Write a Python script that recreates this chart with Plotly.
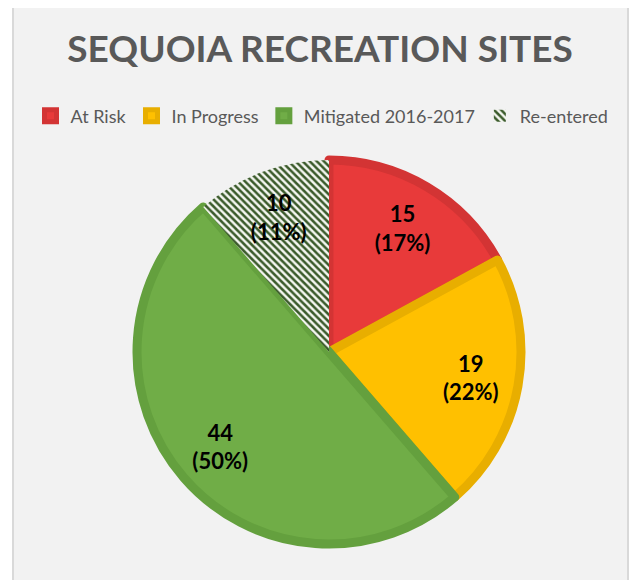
import plotly.graph_objects as go

categories = ["At Risk", "In Progress", "Mitigated 2016-2017", "Re-entered"]
values = [15, 19, 44, 10]
fill_colors = ["#E83A3A", "#FFC000", "#70AD47", "#FFFFFF"]
edge_colors = ["#D33434", "#E8AE00", "#64A03E", "rgba(0,0,0,0)"]

# page body has an 8px margin; figure is drawn in the area below/right of it
OFF = 8
W, H = 637 - OFF, 580 - OFF
cx, cy, r = 329 - OFF, 352 - OFF, 192

dom = dict(x=[(cx - r) / W, (cx + r) / W], y=[(H - cy - r) / H, (H - cy + r) / H])

fig = go.Figure()
fig.add_trace(go.Pie(
    labels=categories,
    values=values,
    sort=False,
    direction="clockwise",
    rotation=0,
    marker=dict(
        colors=fill_colors,
        line=dict(color=edge_colors, width=9),
        pattern=dict(
            shape=["", "", "", "\\"],
            fgcolor=["#000000", "#000000", "#000000", "#3A5A2A"],
            bgcolor=["#E83A3A", "#FFC000", "#70AD47", "#F4F6F0"],
            size=5,
            solidity=0.5,
        ),
    ),
    textinfo="none",
    hoverinfo="label+value+percent",
    domain=dom,
))
# transparent ring overlay used only to place the data labels further out
fig.add_trace(go.Pie(
    labels=categories,
    values=values,
    sort=False,
    direction="clockwise",
    rotation=0,
    hole=0.5,
    showlegend=False,
    marker=dict(colors=["rgba(0,0,0,0)"] * 4, line=dict(width=0)),
    texttemplate="<b>%{value}<br>(%{percent:.0%})</b>",
    textposition="inside",
    insidetextorientation="horizontal",
    textfont=dict(family="Lato, Open Sans, sans-serif", size=22, color="#000000"),
    hoverinfo="skip",
    domain=dom,
))

fig.update_layout(
    width=W, height=H,
    margin=dict(l=0, r=0, t=0, b=0),
    paper_bgcolor="#FFFFFF",
    title=dict(
        text="<b>SEQUOIA RECREATION SITES</b>",
        x=(320 - OFF) / W, xanchor="center",
        y=1 - (49 - OFF) / H, yanchor="middle",
        font=dict(family="Lato, Open Sans, sans-serif", size=37, color="#595959"),
    ),
    legend=dict(
        orientation="h",
        x=(322 - OFF) / W, xanchor="center",
        y=1 - (116 - OFF) / H, yanchor="middle",
        font=dict(family="Lato, Open Sans, sans-serif", size=18, color="#595959"),
        bgcolor="rgba(0,0,0,0)",
        itemwidth=30,
        traceorder="normal",
    ),
    shapes=[dict(
        type="rect", xref="paper", yref="paper",
        x0=(13 - OFF) / W, x1=(628 - OFF) / W, y0=-0.05, y1=1 - (7 - OFF) / H,
        fillcolor="#F2F2F2", line=dict(color="#D9D9D9", width=2),
        layer="below",
    )],
)

fig.write_html("out.html")
